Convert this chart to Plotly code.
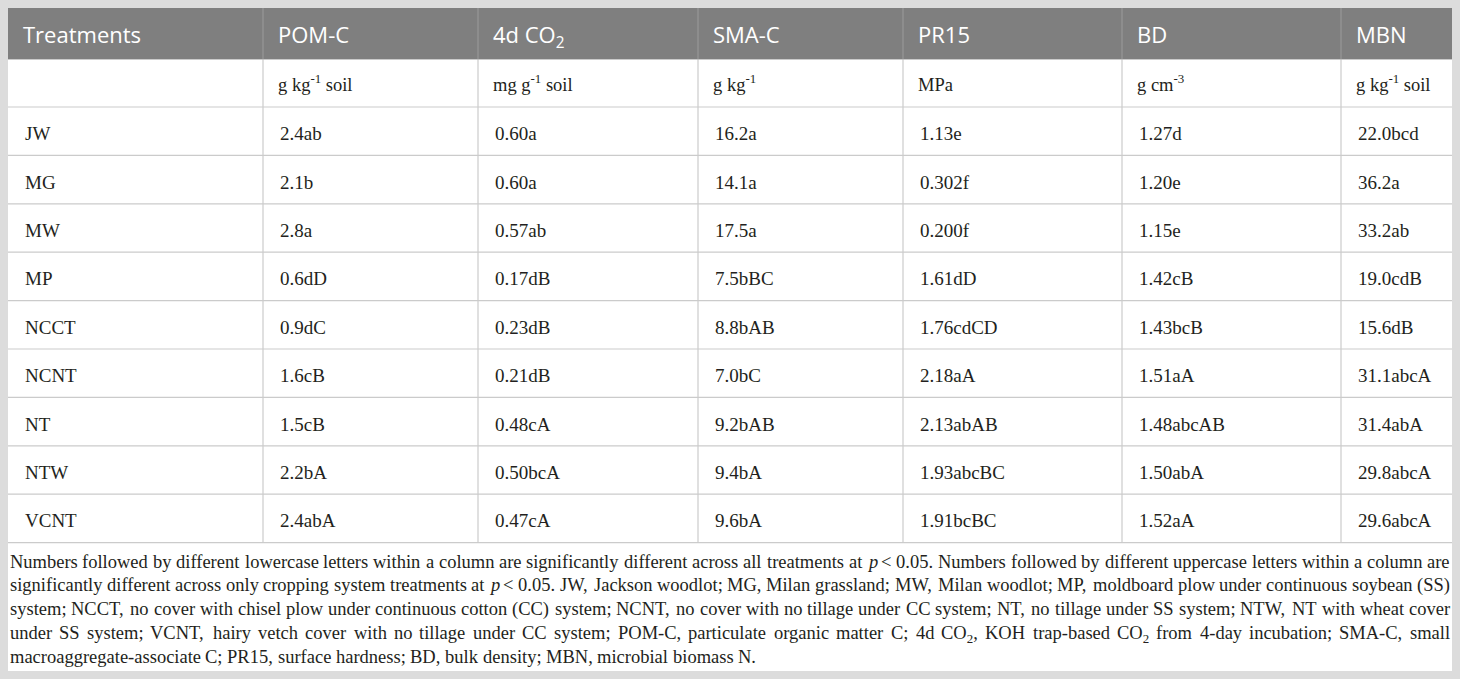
import re
import plotly.graph_objects as go

# ---------------- data ----------------
headers = ["Treatments", "POM-C", "4d CO<sub>2</sub>", "SMA-C", "PR15", "BD", "MBN"]
units = ["", "g kg<sup>-1</sup> soil", "mg g<sup>-1</sup> soil", "g kg<sup>-1</sup>",
         "MPa", "g cm<sup>-3</sup>", "g kg<sup>-1</sup> soil"]
treatments = ["JW", "MG", "MW", "MP", "NCCT", "NCNT", "NT", "NTW", "VCNT"]
pom_c = ["2.4ab", "2.1b", "2.8a", "0.6dD", "0.9dC", "1.6cB", "1.5cB", "2.2bA", "2.4abA"]
co2_4d = ["0.60a", "0.60a", "0.57ab", "0.17dB", "0.23dB", "0.21dB", "0.48cA", "0.50bcA", "0.47cA"]
sma_c = ["16.2a", "14.1a", "17.5a", "7.5bBC", "8.8bAB", "7.0bC", "9.2bAB", "9.4bA", "9.6bA"]
pr15 = ["1.13e", "0.302f", "0.200f", "1.61dD", "1.76cdCD", "2.18aA", "2.13abAB", "1.93abcBC", "1.91bcBC"]
bd = ["1.27d", "1.20e", "1.15e", "1.42cB", "1.43bcB", "1.51aA", "1.48abcAB", "1.50abA", "1.52aA"]
mbn = ["22.0bcd", "36.2a", "33.2ab", "19.0cdB", "15.6dB", "31.1abcA", "31.4abA", "29.8abcA", "29.6abcA"]

footnote_lines = [
    "Numbers followed by different lowercase letters within a column are significantly different across all treatments at <i>p</i> &lt; 0.05. Numbers followed by different uppercase letters within a column are",
    "significantly different across only cropping system treatments at <i>p</i> &lt; 0.05. JW, Jackson woodlot; MG, Milan grassland; MW, Milan woodlot; MP, moldboard plow under continuous soybean (SS)",
    "system; NCCT, no cover with chisel plow under continuous cotton (CC) system; NCNT, no cover with no tillage under CC system; NT, no tillage under SS system; NTW, NT with wheat cover",
    "under SS system; VCNT, hairy vetch cover with no tillage under CC system; POM-C, particulate organic matter C; 4d CO<sub>2</sub>, KOH trap-based CO<sub>2</sub> from 4-day incubation; SMA-C, small",
    "macroaggregate-associate C; PR15, surface hardness; BD, bulk density; MBN, microbial biomass N.",
]

columns = [treatments, pom_c, co2_4d, sma_c, pr15, bd, mbn]

# ---------------- layout constants ----------------
W, H = 1460, 679
col_edges = [8, 263, 478, 698, 903, 1122, 1341, 1452]
table_top = 8
header_bottom = 59.5
units_bottom = 107
row_h = 48.4
pad_x = 14.5
foot_top = 562
foot_step = 23.7
foot_left = 9.5
foot_right = 1450
foot_size = 18.5
header_size = 22
units_size = 18.5
body_size = 19

BORDER = "#dcdcdc"
HEADER_BG = "#7f7f7f"
LINE = "#cbcbcb"
TEXT = "#231f20"
SERIF = "Liberation Serif"
SANS = "Open Sans"
SERIF_EM = 1.107   # ascent + descent of the serif face, in em
SANS_EM = 1.362    # ascent + descent of the sans face, in em

# Times-compatible advance widths (per 1000 em) used to justify the footnote
_W = {" ": 250, "(": 333, ")": 333, ",": 250, "-": 333, ".": 250, ":": 278, ";": 278, "<": 564}
_W.update({d: 500 for d in "0123456789"})
_W.update(dict(zip("ABCDEFGHIJKLMNOPQRSTUVWXYZ",
                   [722, 667, 667, 722, 611, 556, 722, 722, 333, 389, 722, 611, 889, 722, 722, 556,
                    722, 667, 556, 611, 722, 722, 944, 722, 722, 611])))
_W.update(dict(zip("abcdefghijklmnopqrstuvwxyz",
                   [444, 500, 444, 500, 444, 333, 500, 500, 278, 278, 500, 278, 778, 500, 500, 500,
                    500, 333, 389, 278, 500, 500, 722, 500, 500, 444])))


def word_width(word, size):
    total = 0.0
    sub = False
    for tok in re.split(r"(<[^>]+>|&lt;)", word):
        if not tok:
            continue
        if tok == "&lt;":
            total += _W["<"]
        elif tok.startswith("<"):
            if tok == "<sub>":
                sub = True
            elif tok == "</sub>":
                sub = False
        else:
            for ch in tok:
                total += _W.get(ch, 500) * (0.7 if sub else 1.0)
    return total * size / 1000.0


n_rows = len(treatments)
row_edges = [units_bottom + i * row_h for i in range(n_rows + 1)]
table_bottom = row_edges[-1]

shapes = []
annotations = []

# white page area
shapes.append(dict(type="rect", xref="x", yref="y", x0=col_edges[0], x1=col_edges[-1],
                   y0=table_top, y1=H - 8, fillcolor="white", line_width=0, layer="below"))
# header band
shapes.append(dict(type="rect", xref="x", yref="y", x0=col_edges[0], x1=col_edges[-1],
                   y0=table_top, y1=header_bottom, fillcolor=HEADER_BG, line_width=0, layer="below"))

# horizontal rules
for yy in [header_bottom, units_bottom] + row_edges[1:]:
    shapes.append(dict(type="line", xref="x", yref="y", x0=col_edges[0], x1=col_edges[-1],
                       y0=yy, y1=yy, line=dict(color=LINE, width=1.2)))
# vertical rules
for xx in col_edges[1:-1]:
    shapes.append(dict(type="line", xref="x", yref="y", x0=xx, x1=xx, y0=table_top, y1=header_bottom,
                       line=dict(color="#9c9c9c", width=1)))
    shapes.append(dict(type="line", xref="x", yref="y", x0=xx, x1=xx, y0=header_bottom, y1=table_bottom,
                       line=dict(color=LINE, width=1.2)))

# header text (top-anchored so the subscript does not lift the line)
hy = (table_top + header_bottom) / 2 - SANS_EM * header_size / 2
for j, h in enumerate(headers):
    annotations.append(dict(x=col_edges[j] + pad_x, y=hy, text=h,
                            xanchor="left", yanchor="top", showarrow=False, borderpad=0, borderwidth=0,
                            font=dict(family=SANS, size=header_size, color="white")))
# units row (bottom-anchored so superscripts do not push the line down)
uy = (header_bottom + units_bottom) / 2 + 2 + SERIF_EM * units_size / 2
for j, u in enumerate(units):
    if u:
        annotations.append(dict(x=col_edges[j] + pad_x, y=uy, text=u,
                                xanchor="left", yanchor="bottom", showarrow=False, borderpad=0, borderwidth=0,
                                font=dict(family=SERIF, size=units_size, color=TEXT)))
# body
for j, col in enumerate(columns):
    for i, val in enumerate(col):
        annotations.append(dict(x=col_edges[j] + pad_x, y=(row_edges[i] + row_edges[i + 1]) / 2 + 2.5,
                                text=val, xanchor="left", yanchor="middle", showarrow=False,
                                font=dict(family=SERIF, size=body_size, color=TEXT)))

# footnote, justified word by word (last line left-aligned)
foot_font = dict(family=SERIF, size=foot_size, color=TEXT)
for k, line in enumerate(footnote_lines):
    yy = foot_top + k * foot_step - SERIF_EM * foot_size / 2
    words = line.split(" ")
    widths = [word_width(w, foot_size) for w in words]
    if k == len(footnote_lines) - 1:
        gap = _W[" "] * foot_size / 1000.0
    else:
        gap = (foot_right - foot_left - sum(widths)) / (len(words) - 1)
    xpos = foot_left
    for n, (w, ww) in enumerate(zip(words, widths)):
        last_just = (n == len(words) - 1) and (k != len(footnote_lines) - 1)
        annotations.append(dict(x=foot_right if last_just else xpos, y=yy, text=w,
                                xanchor="right" if last_just else "left", yanchor="top",
                                showarrow=False, borderpad=0, borderwidth=0, font=foot_font))
        xpos += ww + gap

fig = go.Figure()
fig.update_layout(
    width=W, height=H,
    margin=dict(l=0, r=0, t=0, b=0),
    paper_bgcolor=BORDER, plot_bgcolor="rgba(0,0,0,0)",
    xaxis=dict(range=[0, W], visible=False, fixedrange=True),
    yaxis=dict(range=[H, 0], visible=False, fixedrange=True),
    shapes=shapes, annotations=annotations, showlegend=False,
)
fig.write_html(
    "out.html",
    config={"displayModeBar": False},
    post_script="document.body.style.margin='0';document.body.style.overflow='hidden';"
                "document.body.style.background='" + BORDER + "';",
)
